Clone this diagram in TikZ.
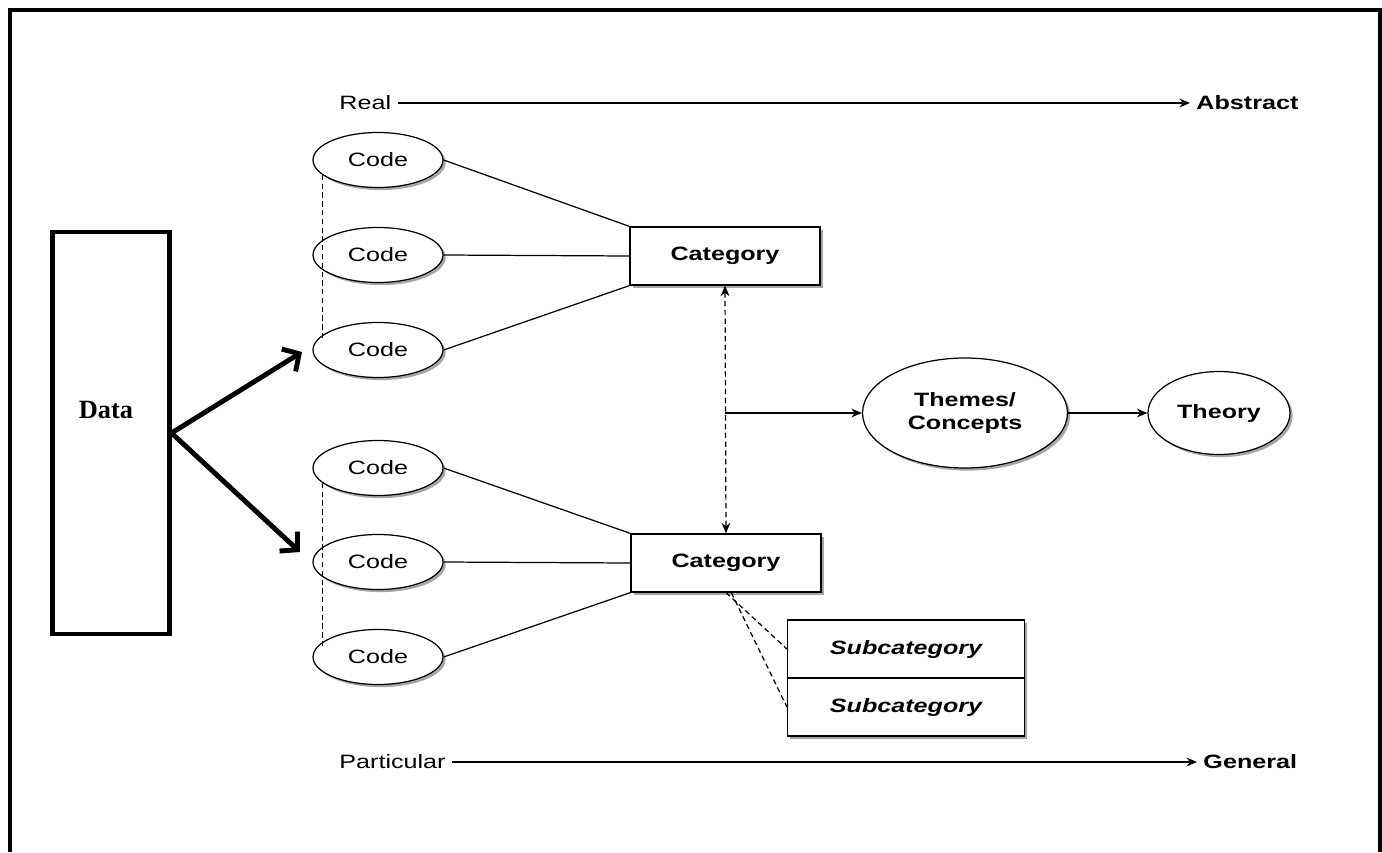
\documentclass[tikz,border=0pt]{standalone}
\usepackage{fontspec}
\setmainfont{Liberation Serif}
\newfontfamily\figfont[FakeStretch=1.3]{Liberation Sans}
\usetikzlibrary{arrows.meta,shapes.geometric,shadows}

\begin{document}
\begin{tikzpicture}[x=0.02cm,y=-0.02cm,line width=0.7pt,
  every node/.style={font=\figfont\fontsize{11}{13}\selectfont},
  myshadow/.style={drop shadow={shadow xshift=1.5pt,shadow yshift=-1.5pt,fill=black,opacity=.35}},
  codenode/.style={draw,ellipse,minimum width=2.6cm,minimum height=1.1cm,fill=white,myshadow},
  catbox/.style={draw,rectangle,minimum width=3.8cm,minimum height=1.16cm,fill=white,myshadow,font=\figfont\bfseries\fontsize{11}{13}\selectfont},
  subbox/.style={draw,rectangle,minimum width=4.74cm,minimum height=1.16cm,fill=white,myshadow,font=\figfont\bfseries\itshape\fontsize{11}{13}\selectfont},
  bigoval/.style={draw,ellipse,fill=white,myshadow,align=center,font=\figfont\bfseries\fontsize{11}{13}\selectfont},
  dots/.style={dash pattern=on 3pt off 2pt},
  thin arrow/.style={-{Stealth[length=6pt,width=5pt]}},
  fat arrow/.style={line width=2.8pt,-{Straight Barb[length=7pt,width=15pt]}}]
\useasboundingbox (0,0) rectangle (1382,852);

% outer frame, open at the bottom
\draw[line width=2.3pt] (10,852) -- (10,10) -- (1380,10) -- (1380,852);

% data box and its two arrows
\node[draw,line width=2.3pt,minimum width=2.34cm,minimum height=8.04cm,inner sep=0pt] (data) at (111,433) {};
\node[font=\bfseries\fontsize{15}{17}\selectfont] (datalbl) at (106,410) {Data};
\coordinate (up) at (302,352);
\coordinate (down) at (300,552);
\draw[fat arrow] (data.east) -- (up);
\draw[fat arrow] (data.east) -- (down);

% real -> abstract
\node[anchor=west] (real) at (333,103) {Real};
\node[anchor=west,font=\figfont\bfseries\fontsize{11}{13}\selectfont] (abstract) at (1190,103) {Abstract};
\draw[thin arrow] (real) -- (abstract);

% codes
\node[codenode] (c1) at (378,160) {Code};
\node[codenode] (c2) at (378,255) {Code};
\node[codenode] (c3) at (378,350) {Code};
\node[codenode] (c4) at (378,468) {Code};
\node[codenode] (c5) at (378,562) {Code};
\node[codenode] (c6) at (378,657) {Code};

\draw[dots] (c1.195) -- (c1.195 |- c3.170);
\draw[dots] (c4.195) -- (c4.195 |- c6.170);

% categories
\node[catbox] (k1) at (725,256) {Category};
\node[catbox] (k2) at (726,563) {Category};

\draw (c1.east) -- (k1.north west);
\draw (c2.east) -- (k1.west);
\draw (c3.east) -- (k1.south west);
\draw (c4.east) -- (k2.north west);
\draw (c5.east) -- (k2.west);
\draw (c6.east) -- (k2.south west);

\draw[dots,{Stealth[length=6pt,width=5pt]}-{Stealth[length=6pt,width=5pt]}] (k1.south) -- (k2.north);

% themes and theory
\node[bigoval,minimum width=4.1cm,minimum height=2.2cm] (themes) at (965,413) {Themes/\\Concepts};
\node[bigoval,minimum width=2.84cm,minimum height=1.66cm] (theory) at (1219,413) {Theory};
\coordinate (mid) at (k1.south |- themes.west);
\draw[thin arrow] (mid) -- (themes);
\draw[thin arrow] (themes) -- (theory);

% subcategories
\node[subbox] (s1) at (906,649) {Subcategory};
\node[subbox] (s2) at (906,707) {Subcategory};
\draw (s1.south west) -- (s1.south east);
\draw[dots] (k2.south) -- (s1.west);
\draw[dots] ([xshift=3pt]k2.south) -- (s2.west);

% particular -> general
\node[anchor=west] (part) at (333,762) {Particular};
\node[anchor=west,font=\figfont\bfseries\fontsize{11}{13}\selectfont] (general) at (1197,762) {General};
\draw[thin arrow] (part) -- (general);
\end{tikzpicture}
\end{document}
